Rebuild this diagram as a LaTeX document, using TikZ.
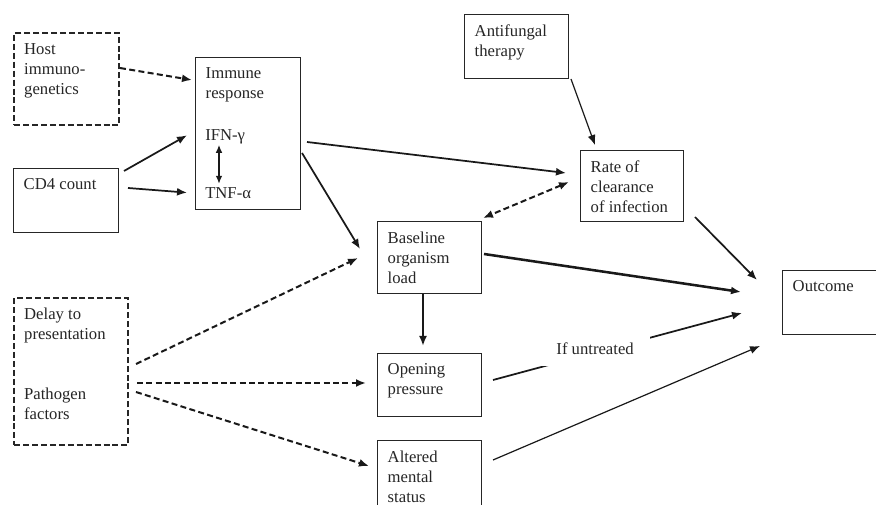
\documentclass[tikz,border=0pt]{standalone}
\usepackage{fontspec}
\setmainfont{Liberation Serif}
\usetikzlibrary{arrows.meta,calc}
\newcommand\bt[3]{\parbox[c][#2][t]{#1}{\raggedright #3}}
\begin{document}
\begin{tikzpicture}[x=0.75pt,y=-0.75pt,
  bx/.style={draw=black!85, line width=1.1pt, inner sep=7.5pt, anchor=north west,
    font=\fontsize{12.5}{15}\selectfont, text=black!85},
  dbx/.style={bx, line width=1.8pt, dash pattern=on 4.5pt off 2.2pt},
  lbl/.style={inner sep=0pt, font=\fontsize{12.5}{15}\selectfont, text=black!85},
  ar/.style={-{Latex[length=7.5pt,width=6pt]}, line width=1.3pt, draw=black!90},
  thinar/.style={ar, line width=0.9pt},
  thickar/.style={ar, line width=1.9pt},
  dar/.style={ar, line width=1.5pt, dash pattern=on 4.5pt off 2.5pt},
  ddar/.style={dar, {Latex[length=7.5pt,width=6pt]}-{Latex[length=7.5pt,width=6pt]}},
]
\clip (0,0) rectangle (876,505);
\fill[white] (0,0) rectangle (876,505);

% boxes
\node[dbx] (host) at (13,32) {\bt{63.75pt}{54pt}{Host\\immuno-\\genetics}};
\node[bx] (immune) at (195,57) {\bt{63.75pt}{99pt}{Immune\\response}};
\node[lbl, anchor=base west] (ifn) at (205,141) {IFN-γ};
\node[lbl, anchor=base west] (tnf) at (205,199) {TNF-α};
\node[bx] (cd4) at (13,168) {\bt{63.75pt}{33pt}{CD4 count}};
\node[dbx] (delay) at (13,297) {\bt{70.5pt}{95.25pt}{Delay to\\presentation\\[30pt]Pathogen\\factors}};
\node[bx] (baseline) at (377,221) {\bt{63pt}{39pt}{Baseline\\organism\\load}};
\node[bx] (opening) at (377,353) {\bt{63pt}{32.25pt}{Opening\\pressure}};
\node[bx] (altered) at (377,440) {\bt{63pt}{45pt}{Altered\\mental\\status}};
\node[bx] (antifungal) at (464,14) {\bt{63pt}{33pt}{Antifungal\\therapy}};
\node[bx] (rate) at (580,150) {\bt{62.25pt}{38.25pt}{Rate of\\clearance\\of infection}};
\node[bx] (outcome) at (782,270) {\bt{67.5pt}{33pt}{Outcome}};

% connectors
\draw[dar] ($(host.north west)+(107,36)$) -- ($(immune.north west)+(-3,23)$);
\draw[ar] ($(cd4.north west)+(111,3)$) -- ($(ifn.west)+(-18,-2)$);
\draw[ar] ($(cd4.north west)+(115,20)$) -- ($(tnf.west)+(-18,-1)$);
\draw[ar, <->, >={Latex[length=6pt,width=5pt]}, line width=1.1pt] ($(ifn.south west)+(14,0)$) -- ($(tnf.north west)+(14,-4)$);
\draw[ar] ($(immune.north west)+(112,85)$) -- ($(rate.north west)+(-14,23)$);
\draw[ar] ($(immune.north west)+(107,96)$) -- ($(baseline.north west)+(-17,28)$);
\draw[thinar] ($(antifungal.north west)+(107,65)$) -- ($(rate.north west)+(15,-5)$);
\draw[ddar] ($(rate.north west)+(-11,32)$) -- ($(baseline.north west)+(106,-3)$);
\draw[ar] ($(rate.north west)+(115,67)$) -- ($(outcome.north west)+(-25,10)$);
\draw[thickar] ($(baseline.north west)+(107,33)$) -- ($(outcome.north west)+(-41,22)$);
\draw[ar] ($(opening.north west)+(116,27)$) -- node[lbl, pos=0.41, fill=white, inner xsep=12pt, inner ysep=9pt, yshift=3pt] (untreated) {If untreated} ($(outcome.north west)+(-40,43)$);
\draw[thinar] ($(altered.north west)+(116,20)$) -- ($(outcome.north west)+(-22,76)$);
\draw[ar, line width=1.6pt] ($(baseline.north west)+(46,73)$) -- ($(opening.north west)+(46,-7)$);
\draw[dar] ($(delay.north west)+(123,67)$) -- ($(baseline.north west)+(-19,37)$);
\draw[dar] ($(delay.north west)+(124,86)$) -- ($(opening.north west)+(-11,30)$);
\draw[dar] ($(delay.north west)+(123,95)$) -- ($(altered.north west)+(-8,26)$);
\end{tikzpicture}
\end{document}
